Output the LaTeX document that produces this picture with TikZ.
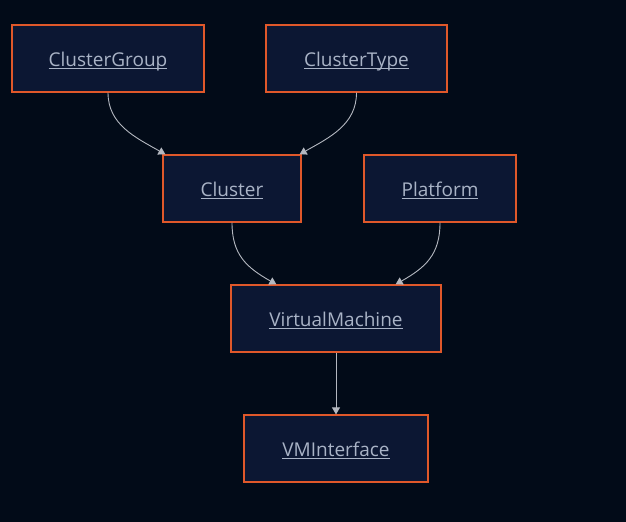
\documentclass[tikz,border=0pt]{standalone}
\usepackage{fontspec}
\setmainfont{Open Sans}
\usetikzlibrary{positioning, arrows.meta}

\definecolor{bgcol}{HTML}{020B18}
\definecolor{boxfill}{HTML}{0C1733}
\definecolor{boxline}{HTML}{E0582A}
\definecolor{txtcol}{HTML}{A9B3C6}
\definecolor{linkcol}{HTML}{B4B8C0}

\newcommand{\lnk}[1]{\setbox0\hbox{#1}\rlap{\rule[-2.6bp]{\wd0}{1.3bp}}\box0}

\tikzset{
    entity/.style={draw=boxline, fill=boxfill, line width=1.2bp, minimum height=67bp,
        text=txtcol, font=\fontsize{19bp}{22bp}\selectfont, inner sep=0pt,
        text height=18bp, text depth=2bp},
    link/.style={draw=linkcol, line width=0.9bp, -{Triangle[width=8bp,length=7bp]}}
}

\begin{document}
\begin{tikzpicture}[x=1bp, y=-1bp]
        \fill[bgcol] (0,0) rectangle (626,522);
        \node[entity, minimum width=192bp] (cg) at (108,58.5) {\lnk{ClusterGroup}};
        \node[entity, minimum width=181bp] (ct) at (356.5,58.5) {\lnk{ClusterType}};
        \node[entity, minimum width=138bp] (cl) at (232,188.5) {\lnk{Cluster}};
        \node[entity, minimum width=152bp] (pf) at (440,188.5) {\lnk{Platform}};
        \node[entity, minimum width=210bp] (vm) at (336,318.5) {\lnk{VirtualMachine}};
        \node[entity, minimum width=184bp] (vi) at (336,448.5) {\lnk{VMInterface}};
        % relations
        \draw[link] (cg.south) .. controls +(0,32) and +(-30,-17) .. ([xshift=3bp]cl.north west);
        \draw[link] (ct.south) .. controls +(0,32) and +(30,-17) .. ([xshift=-2bp]cl.north east);
        \draw[link] (cl.south) .. controls +(0,32) and +(-30,-17) .. ([xshift=46bp]vm.north west);
        \draw[link] (pf.south) .. controls +(0,32) and +(30,-17) .. ([xshift=-46bp]vm.north east);
        \draw[link] (vm.south) -- (vi.north);
    \end{tikzpicture}
\end{document}
